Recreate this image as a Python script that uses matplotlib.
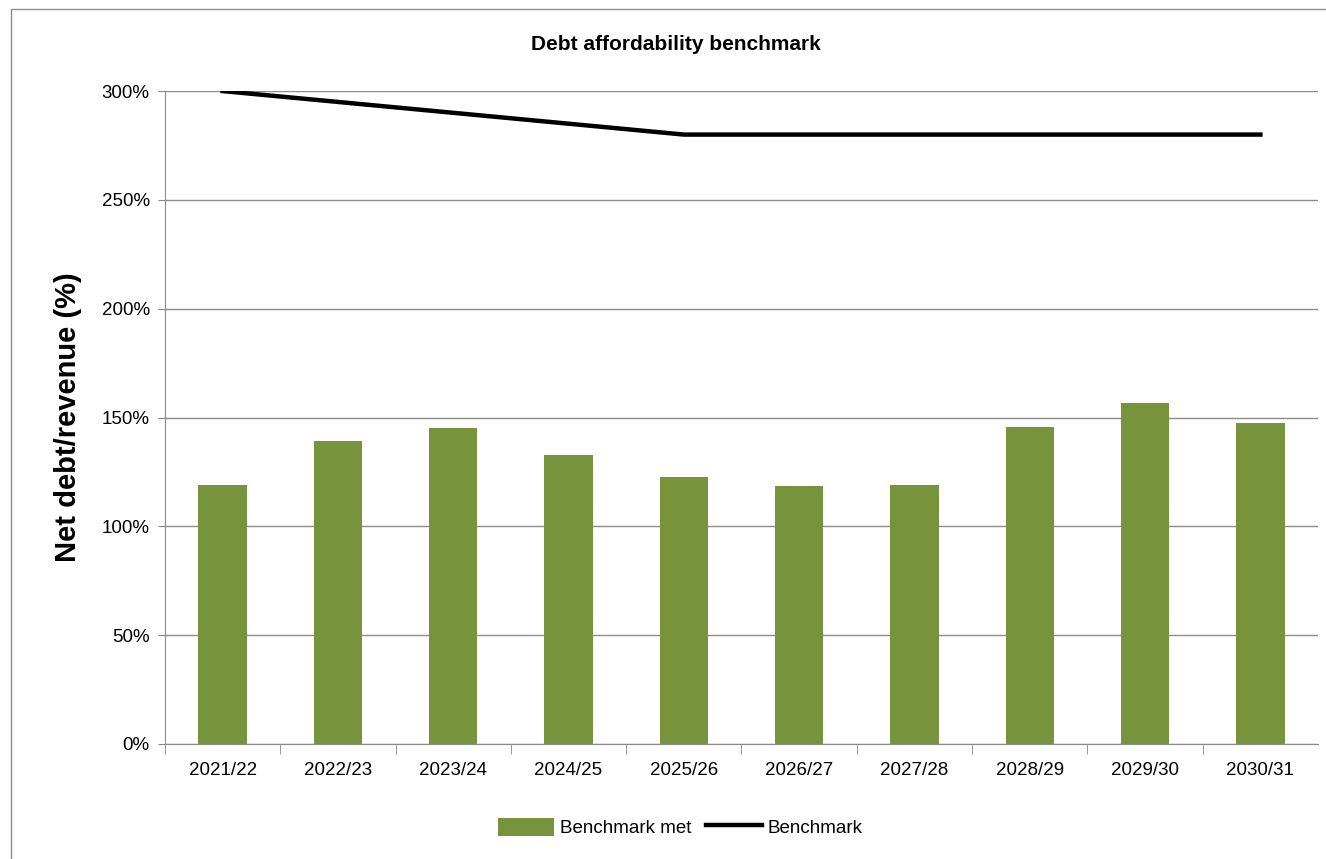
import matplotlib.pyplot as plt
from matplotlib.patches import Rectangle

plt.rcParams['font.family'] = ['Liberation Sans Narrow', 'Liberation Sans', 'DejaVu Sans']

# Gegevens
years = ['2021/22', '2022/23', '2023/24', '2024/25', '2025/26',
         '2026/27', '2027/28', '2028/29', '2029/30', '2030/31']
benchmark_met = [119.0, 139.2, 145.0, 132.8, 122.5, 118.5, 119.0, 145.8, 156.8, 147.6]
benchmark = [300, 295, 290, 285, 280, 280, 280, 280, 280, 280]

fig = plt.figure(figsize=(13.26, 8.59), dpi=100)
ax = fig.add_axes([0.1244, 0.1339, 0.8696, 0.7601])

x = range(len(years))
bars = ax.bar(x, benchmark_met, width=0.42, color='#77933C', label='Benchmark met', zorder=2)
line, = ax.plot(x, benchmark, color='black', linewidth=3.2, label='Benchmark', zorder=3)

ax.set_xlim(-0.5, len(years) - 0.5)
ax.set_ylim(0, 300)
ax.set_yticks(range(0, 301, 50))
ax.set_yticklabels([f'{v}%' for v in range(0, 301, 50)], fontsize=13.5)
ax.set_xticks(list(x))
ax.set_xticklabels(years, fontsize=13.5)
ax.tick_params(axis='x', length=0, pad=13)
ax.set_xticks([i - 0.5 for i in range(len(years))], minor=True)
ax.tick_params(axis='x', which='minor', length=7, color='#888888')
ax.tick_params(axis='y', length=5, color='#888888', pad=6)

ax.yaxis.grid(True, color='#8c8c8c', linewidth=1, zorder=0)
ax.set_axisbelow(True)
for side in ['top', 'right']:
    ax.spines[side].set_visible(False)
for side in ['left', 'bottom']:
    ax.spines[side].set_color('#8c8c8c')

ax.set_ylabel('Net debt/revenue (%)', fontsize=21, fontweight='bold',
              family=['Liberation Sans', 'DejaVu Sans'], labelpad=14)

fig.text(0.51, 0.948, 'Debt affordability benchmark', ha='center', va='center',
         fontsize=15, fontweight='bold')

fig.legend([bars, line], ['Benchmark met', 'Benchmark'], loc='center',
           bbox_to_anchor=(0.513, 0.037), ncol=2, frameon=False,
           fontsize=13.5, handlelength=3.0, handleheight=1.1,
           columnspacing=0.8, handletextpad=0.3)

# Rand rond de grafiek
fig.patches.append(Rectangle((0.008, -0.01), 1.1, 1.0, transform=fig.transFigure,
                             fill=False, edgecolor='#8c8c8c', linewidth=1))

plt.savefig('out.png', dpi=100)
